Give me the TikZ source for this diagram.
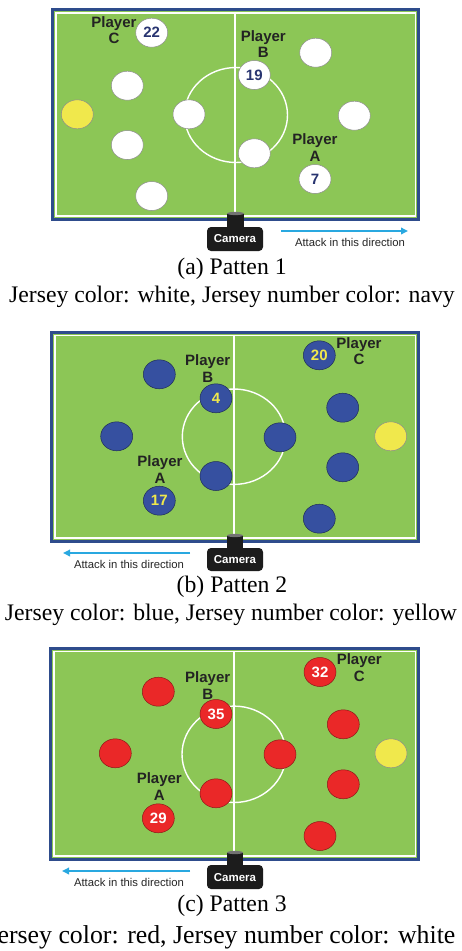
\documentclass[tikz,border=0pt]{standalone}
\usepackage{fontspec}
\setmainfont{Liberation Serif}
\setsansfont{Liberation Sans}
\usetikzlibrary{shapes.geometric,arrows.meta}
\definecolor{fieldgreen}{RGB}{140,198,86}
\definecolor{frameblue}{RGB}{46,76,140}
\definecolor{navynum}{RGB}{40,52,112}
\definecolor{pblue}{RGB}{54,80,160}
\definecolor{pred}{RGB}{234,40,40}
\definecolor{pyellow}{RGB}{240,232,76}
\definecolor{attackblue}{RGB}{41,168,224}
\definecolor{lblgray}{RGB}{35,35,35}
\definecolor{camblack}{RGB}{28,28,28}
\tikzset{
  pl/.style={ellipse, minimum width=32pt, minimum height=29pt, inner sep=0pt, line width=0.5pt,
    font=\sffamily\bfseries\fontsize{15}{15}\selectfont},
  whiteP/.style={pl, fill=white, draw=black!45, text=navynum},
  blueP/.style={pl, fill=pblue, draw=pblue!55!black, text=pyellow},
  redP/.style={pl, fill=pred, draw=pred!60!black, text=white},
  yellowP/.style={pl, fill=pyellow, draw=black!45},
  lbl/.style={align=center, text=lblgray, inner sep=0pt,
    font=\sffamily\bfseries\fontsize{15}{16.7}\selectfont},
  framebox/.style={draw=frameblue, line width=3pt, fill=fieldgreen},
  whiteline/.style={draw=white, line width=1.4pt},
  attack/.style={draw=attackblue, line width=1.8pt, -{Triangle[length=7pt,width=6.5pt]}},
  attacktxt/.style={text=black!85, inner sep=0pt, font=\sffamily\fontsize{11.3}{12}\selectfont},
  camtxt/.style={text=white, inner sep=0pt, font=\sffamily\bfseries\fontsize{11.5}{12}\selectfont},
  capt/.style={inner sep=0pt, anchor=base, font=\fontsize{23.7}{26}\selectfont},
  captbig/.style={inner sep=0pt, anchor=base, font=\fontsize{25.8}{28}\selectfont},
}
\begin{document}
\begin{tikzpicture}[x=1pt,y=-1pt]
\useasboundingbox (0,0) rectangle (461,951);
\fill[white] (0,0) rectangle (461,951);

% ================= Panel 1 =================
\draw[framebox] (52.5,9.8) rectangle (418.5,219.2);
\draw[whiteline] (55.8,13) rectangle (415.2,216);
\draw[whiteline] (235,13) -- (235,216);
\draw[whiteline] (236,115) ellipse [x radius=51.5pt, y radius=47.5pt];
\node[whiteP] (p1n22) at (151.7,32.7) {22};
\node[whiteP] (p1n19) at (254.3,75) {19};
\node[whiteP] (p1n7) at (315,179) {7};
\node[whiteP] (p1w1) at (127.3,85.7) {};
\node[yellowP] (p1y) at (77.3,114.3) {};
\node[whiteP] (p1w2) at (189,114.3) {};
\node[whiteP] (p1w3) at (127.3,145) {};
\node[whiteP] (p1w4) at (151.7,196) {};
\node[whiteP] (p1w5) at (315.7,52.7) {};
\node[whiteP] (p1w6) at (354.3,115.7) {};
\node[whiteP] (p1w7) at (254.3,153.3) {};
\node[lbl] (p1lc) at (114,30) {Player\\C};
\node[lbl] (p1lb) at (263.3,44.2) {Player\\B};
\node[lbl] (p1la) at (315,147.7) {Player\\A};
% camera
\fill[camblack] (227,213.5) rectangle (244,228);
\fill[black!55] (235.5,213.5) ellipse [x radius=8.5pt, y radius=1.6pt];
\fill[camblack, rounded corners=4pt] (207,251) -- (207,227) -- (263,227) -- (263,251) -- cycle;
\node[camtxt] (cam1) at (235,238.5) {Camera};
\coordinate (a1s) at (281,231);
\coordinate (a1e) at (408,231);
\draw[attack] (a1s) -- (a1e);
\node[attacktxt] (t1) at (350,242) {Attack in this direction};
\node[capt] (c1a) at (232,274) {(a) Patten 1};
\node[capt] (c1b) at (232,302) {Jersey color: white, Jersey number color: navy};

% ================= Panel 2 =================
\draw[framebox] (51.5,332.2) rectangle (418.5,541.2);
\draw[whiteline] (54.8,335.4) rectangle (415.2,538);
\draw[whiteline] (234,335.4) -- (234,538);
\draw[whiteline] (234,436.7) ellipse [x radius=51.7pt, y radius=47.7pt];
\node[blueP] (p2n20) at (319.3,355.3) {20};
\node[blueP] (p2n4) at (216,398.3) {4};
\node[blueP] (p2n17) at (159.3,500.7) {17};
\node[blueP] (p2b1) at (159.3,374.3) {};
\node[blueP] (p2b2) at (116.7,436.3) {};
\node[blueP] (p2b3) at (216,476) {};
\node[blueP] (p2b4) at (280,437.3) {};
\node[blueP] (p2b5) at (342.7,407.7) {};
\node[yellowP] (p2y) at (390.7,436.3) {};
\node[blueP] (p2b6) at (342.7,467.3) {};
\node[blueP] (p2b7) at (319.3,518.7) {};
\node[lbl] (p2lc) at (359,351) {Player\\C};
\node[lbl] (p2lb) at (207.7,368.7) {Player\\B};
\node[lbl] (p2la) at (160,469.5) {Player\\A};
% camera
\fill[camblack] (227,535.5) rectangle (243,549);
\fill[black!55] (235,535.5) ellipse [x radius=8pt, y radius=1.6pt];
\fill[camblack, rounded corners=4pt] (207,571) -- (207,548) -- (263,548) -- (263,571) -- cycle;
\node[camtxt] (cam2) at (235,560) {Camera};
\coordinate (a2s) at (190,553);
\coordinate (a2e) at (63,553);
\draw[attack] (a2s) -- (a2e);
\node[attacktxt] (t2) at (129,564.5) {Attack in this direction};
\node[capt] (c2a) at (232,592.5) {(b) Patten 2};
\node[capt] (c2b) at (231,620.5) {Jersey color: blue, Jersey number color: yellow};

% ================= Panel 3 =================
\draw[framebox] (50.5,648.2) rectangle (418.5,859.2);
\draw[whiteline] (53.8,651.4) rectangle (415.2,856);
\draw[whiteline] (234,651.4) -- (234,856);
\draw[whiteline] (234,754.3) ellipse [x radius=52pt, y radius=48.2pt];
\node[redP] (p3n32) at (320,672) {32};
\node[redP] (p3n35) at (216,714) {35};
\node[redP] (p3n29) at (158.3,818.3) {29};
\node[redP] (p3r1) at (158.3,691.7) {};
\node[redP] (p3r2) at (115.3,753.3) {};
\node[redP] (p3r3) at (216,793.3) {};
\node[redP] (p3r4) at (280,754.3) {};
\node[redP] (p3r5) at (343.3,724.3) {};
\node[yellowP] (p3y) at (391,753.3) {};
\node[redP] (p3r6) at (343.3,784.3) {};
\node[redP] (p3r7) at (320,836) {};
\node[lbl] (p3lc) at (359.3,667.7) {Player\\C};
\node[lbl] (p3lb) at (207.7,685.3) {Player\\B};
\node[lbl] (p3la) at (159.3,786.7) {Player\\A};
% camera
\fill[camblack] (227,852.5) rectangle (243,866);
\fill[black!55] (235,852.5) ellipse [x radius=8pt, y radius=1.6pt];
\fill[camblack, rounded corners=4pt] (207,889) -- (207,865) -- (263,865) -- (263,889) -- cycle;
\node[camtxt] (cam3) at (235,877.5) {Camera};
\coordinate (a3s) at (190,871);
\coordinate (a3e) at (62,871);
\draw[attack] (a3s) -- (a3e);
\node[attacktxt] (t3) at (129,882) {Attack in this direction};
\node[capt] (c3a) at (232,911) {(c) Patten 3};
\node[captbig] (c3b) at (221.5,943) {Jersey color: red, Jersey number color: white};
\end{tikzpicture}
\end{document}
